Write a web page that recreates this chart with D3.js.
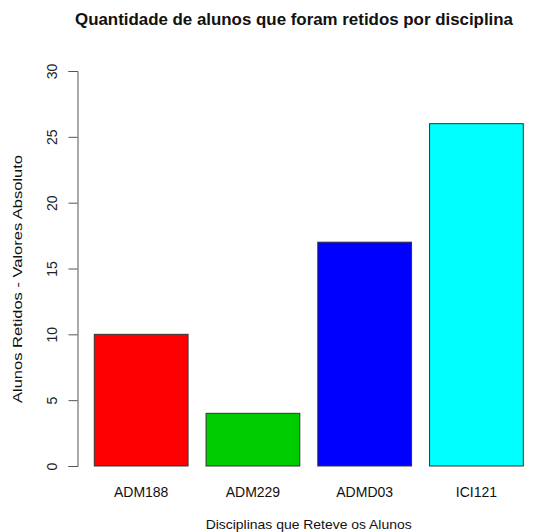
<!DOCTYPE html>
<html><head><meta charset="utf-8">
<script src="https://cdn.jsdelivr.net/npm/d3@7"></script>
<style>body{margin:0;background:#fff}svg{display:block}</style>
</head><body>
<svg id="c" width="540" height="532"></svg>
<script>
const categories = ["ADM188", "ADM229", "ADMD03", "ICI121"];
const values = [10, 4, 17, 26];
const colors = ["#ff0000", "#00cd00", "#0000ff", "#00ffff"];
const yTicks = [0, 5, 10, 15, 20, 25, 30];

const svg = d3.select("#c");
const font = "Liberation Sans, Arial, sans-serif";

const y = d3.scaleLinear().domain([0, 30]).range([466, 71]);
const x = d3.scaleBand().domain(categories).range([94.3, 523.3]).paddingInner(0.161).paddingOuter(0);

svg.selectAll("rect.bar").data(values).enter().append("rect")
  .attr("x", (d, i) => x(categories[i]))
  .attr("y", d => y(d))
  .attr("width", x.bandwidth())
  .attr("height", d => y(0) - y(d))
  .attr("fill", (d, i) => colors[i])
  .attr("stroke", "#333").attr("stroke-width", 1);

const yAxis = svg.append("g").attr("transform", "translate(77.5,0)")
  .call(d3.axisLeft(y).tickValues(yTicks).tickSize(9).tickFormat(d3.format("d")));
yAxis.select(".domain").attr("stroke", "#555");
yAxis.selectAll(".tick line").attr("stroke", "#555");
yAxis.selectAll(".tick text")
  .attr("font-family", font).attr("font-size", 14).attr("fill", "#222")
  .attr("transform", "rotate(-90)").attr("x", 0).attr("y", -25)
  .attr("text-anchor", "middle").attr("dy", "0.35em");

svg.selectAll("text.cat").data(categories).enter().append("text")
  .attr("x", d => x(d) + x.bandwidth() / 2).attr("y", 497)
  .attr("text-anchor", "middle").attr("font-family", font).attr("font-size", 14).attr("fill", "#111")
  .text(d => d);

svg.append("text").attr("x", 308.7).attr("y", 529)
  .attr("text-anchor", "middle").attr("font-family", font).attr("font-size", 13.5).attr("fill", "#111")
  .attr("textLength", 206).attr("lengthAdjust", "spacingAndGlyphs")
  .text("Disciplinas que Reteve os Alunos");

svg.append("text").attr("transform", "translate(22,279) rotate(-90)")
  .attr("text-anchor", "middle").attr("font-family", font).attr("font-size", 13.5).attr("fill", "#111")
  .attr("textLength", 248).attr("lengthAdjust", "spacingAndGlyphs")
  .text("Alunos Retidos - Valores Absoluto");

svg.append("text").attr("x", 294).attr("y", 25)
  .attr("text-anchor", "middle").attr("font-family", font).attr("font-size", 16).attr("font-weight", "bold").attr("fill", "#111")
  .attr("textLength", 438).attr("lengthAdjust", "spacingAndGlyphs")
  .text("Quantidade de alunos que foram retidos por disciplina");
</script>
</body></html>
